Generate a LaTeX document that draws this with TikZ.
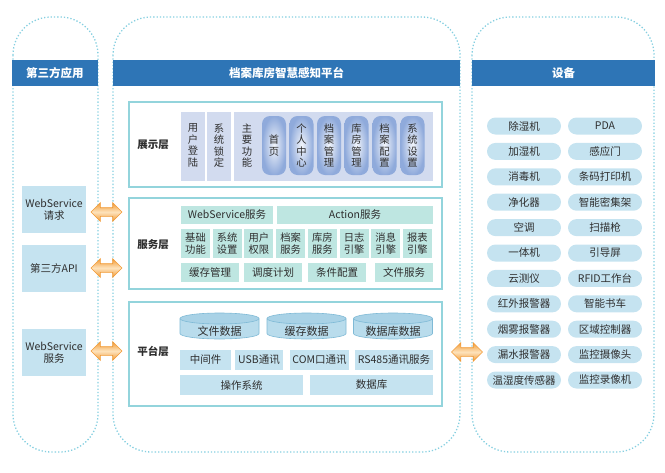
\documentclass[tikz,border=0pt]{standalone}
\usepackage{fontspec}
\setmainfont{Noto Sans CJK SC}
\usetikzlibrary{shapes.arrows}
\definecolor{hdrblue}{HTML}{2E75B6}
\definecolor{dotc}{HTML}{86CFE0}
\definecolor{panelc}{HTML}{93D4DC}
\definecolor{dispc}{HTML}{D2DBEF}
\definecolor{btnout}{HTML}{8FAADB}
\definecolor{btnin}{HTML}{F2F5FB}
\definecolor{svcc}{HTML}{BEE6E1}
\definecolor{platc}{HTML}{C5E3F0}
\definecolor{txtc}{HTML}{2E2E2E}
\definecolor{cylbodyc}{HTML}{B9DCEC}
\definecolor{cyltopc}{HTML}{A9D2E6}
\definecolor{cyllinec}{HTML}{7FBAD6}
\definecolor{orgc}{HTML}{F29A35}
\definecolor{orgl}{HTML}{FDE3BC}
\begin{document}
\begin{tikzpicture}[x=1pt,y=-1pt,
  cont/.style={draw=dotc,dotted,line width=1.3pt,rounded corners=38pt},
  hdr/.style={fill=hdrblue,text=white,inner sep=0pt,minimum height=26pt,font=\bfseries\fontsize{11.5}{13}\selectfont},
  panel/.style={draw=panelc,line width=1.4pt,fill=white,inner sep=0pt},
  lab/.style={text=txtc,font=\fontsize{10.5}{12}\selectfont,inner sep=0pt},
  blab/.style={text=txtc,font=\bfseries\fontsize{10.5}{12}\selectfont,inner sep=0pt},
  vtxt/.style={text=txtc,align=center,inner sep=0pt,font=\fontsize{10.3}{11.4}\selectfont},
  disp/.style={fill=dispc,inner sep=0pt,minimum width=24pt,minimum height=69pt},
  btn/.style={rounded corners=8pt,inner color=btnin,outer color=btnout,inner sep=0pt,minimum width=24pt,minimum height=59pt},
  svc/.style={fill=svcc,text=txtc,inner sep=0pt,align=center,font=\fontsize{10.3}{11.3}\selectfont},
  plat/.style={fill=platc,text=txtc,inner sep=0pt,minimum height=20pt,font=\fontsize{10.5}{12}\selectfont},
  lbox/.style={fill=platc,text=txtc,inner sep=0pt,align=center,minimum width=64pt,minimum height=47pt,font=\fontsize{10.5}{12.5}\selectfont},
  dev/.style={fill=platc,text=txtc,rounded corners=8.5pt,inner sep=0pt,minimum width=74pt,minimum height=17pt,font=\fontsize{10.5}{12}\selectfont},
  dblarr/.style={double arrow,double arrow head extend=5pt,inner xsep=0pt,inner ysep=4pt,minimum height=31pt,draw=orgc,line width=0.6pt,top color=orgc,bottom color=orgc,middle color=orgl},
  cylline/.style={draw=cyllinec,line width=0.6pt}
]
\useasboundingbox (0,0) rectangle (665,472);

% containers
\draw[cont] (13,17) rectangle (98,452);
\draw[cont] (113,17) rectangle (460,452);
\draw[cont] (472,17) rectangle (654,452);

% headers
\node[hdr,minimum width=86pt] (h1) at (55,73) {第三方应用};
\node[hdr,minimum width=347pt] (h2) at (286.5,73) {档案库房智慧感知平台};
\node[hdr,minimum width=183pt] (h3) at (563.5,73) {设备};

% panel 1
\node[panel,minimum width=313pt,minimum height=85pt] (p1) at (285.5,144.5) {};
\node[blab] (l1) at (153,145) {展示层};
\node[disp] (d1) at (193,146.5) {};
\node[vtxt] (d1t) at (193,145.5) {用\\户\\登\\陆};
\node[disp] (d2) at (219,146.5) {};
\node[vtxt] (d2t) at (219,145.5) {系\\统\\锁\\定};
\node[disp,minimum width=199pt] (d3) at (333.5,146.5) {};
\node[vtxt] (d3t) at (247,145.5) {主\\要\\功\\能};
\node[btn] (b1) at (274,145.5) {};
\node[vtxt] (b1t) at (274,145.5) {首\\页};
\node[btn] (b2) at (301.5,145.5) {};
\node[vtxt] (b2t) at (301.5,145.5) {个\\人\\中\\心};
\node[btn] (b3) at (329,145.5) {};
\node[vtxt] (b3t) at (329,145.5) {档\\案\\管\\理};
\node[btn] (b4) at (356.5,145.5) {};
\node[vtxt] (b4t) at (356.5,145.5) {库\\房\\管\\理};
\node[btn] (b5) at (384.5,145.5) {};
\node[vtxt] (b5t) at (384.5,145.5) {档\\案\\配\\置};
\node[btn] (b6) at (412.5,145.5) {};
\node[vtxt] (b6t) at (412.5,145.5) {系\\统\\设\\置};

% panel 2
\node[panel,minimum width=313pt,minimum height=91pt] (p2) at (285.5,243.5) {};
\node[blab] (l2) at (153,245) {服务层};
\node[svc,minimum width=92pt,minimum height=18pt,font=\fontsize{10.5}{12}\selectfont] (s1) at (227,215) {WebService服务};
\node[svc,minimum width=156pt,minimum height=18pt,font=\fontsize{10.5}{12}\selectfont] (s2) at (355,215) {Action服务};
\foreach \i/\t in {0/基础\\功能,1/系统\\设置,2/用户\\权限,3/档案\\服务,4/库房\\服务,5/日志\\引擎,6/消息\\引擎,7/报表\\引擎}{
  \node[svc,minimum width=29pt,minimum height=29pt] (m\i) at (195.5+31.71*\i,243.5) {\t};
}
\node[svc,minimum width=58pt,minimum height=19pt,font=\fontsize{10.5}{12}\selectfont] (r1) at (210,272.5) {缓存管理};
\node[svc,minimum width=58pt,minimum height=19pt,font=\fontsize{10.5}{12}\selectfont] (r2) at (273,272.5) {调度计划};
\node[svc,minimum width=58pt,minimum height=19pt,font=\fontsize{10.5}{12}\selectfont] (r3) at (337,272.5) {条件配置};
\node[svc,minimum width=58pt,minimum height=19pt,font=\fontsize{10.5}{12}\selectfont] (r4) at (404,272.5) {文件服务};

% panel 3
\node[panel,minimum width=313pt,minimum height=104pt] (p3) at (285.5,354) {};
\node[blab] (l3) at (153,351) {平台层};
\foreach \cx/\nm/\t in {219.5/c1/文件数据,306.5/c2/缓存数据,393/c3/数据库数据}{
  \fill[cylbodyc] (\cx-39.5,318.5) -- (\cx-39.5,333.5) arc[start angle=180,end angle=0,x radius=39.5,y radius=5.5] -- (\cx+39.5,318.5) -- cycle;
  \draw[cylline] (\cx-39.5,318.5) -- (\cx-39.5,333.5) arc[start angle=180,end angle=0,x radius=39.5,y radius=5.5] -- (\cx+39.5,318.5);
  \filldraw[cylline,fill=cyltopc] (\cx,318.5) ellipse[x radius=39.5,y radius=5.5];
  \node[lab,font=\fontsize{11}{12}\selectfont] (\nm) at (\cx,331) {\t};
}
\node[plat,minimum width=51pt] (q1) at (205.5,360) {中间件};
\node[plat,minimum width=48pt] (q2) at (259,360) {USB通讯};
\node[plat,minimum width=59pt] (q3) at (319.5,360) {COM口通讯};
\node[plat,minimum width=78pt] (q4) at (394,360) {RS485通讯服务};
\node[plat,minimum width=123pt] (o1) at (241.5,385) {操作系统};
\node[plat,minimum width=123pt] (o2) at (371.5,385) {数据库};

% left boxes
\node[lbox] (w1) at (54,209.5) {WebService\\请求};
\node[lbox] (w2) at (54,268.5) {第三方API};
\node[lbox] (w3) at (54,352.5) {WebService\\服务};

% arrows
\node[dblarr] (a1) at (106.5,212) {};
\node[dblarr] (a2) at (106.5,268) {};
\node[dblarr] (a3) at (106.5,351) {};
\node[dblarr] (a4) at (467,352) {};

% devices
\foreach \i/\a/\b in {0/除湿机/PDA,1/加湿机/感应门,2/消毒机/条码打印机,3/净化器/智能密集架,4/空调/扫描枪,5/一体机/引导屏,6/云测仪/RFID工作台,7/红外报警器/智能书车,8/烟雾报警器/区域控制器,9/漏水报警器/监控摄像头,10/温湿度传感器/监控录像机}{
  \node[dev] (el\i) at (524,126+25.4*\i) {\a};
  \node[dev] (er\i) at (605,126+25.4*\i) {\b};
}
\end{tikzpicture}
\end{document}
